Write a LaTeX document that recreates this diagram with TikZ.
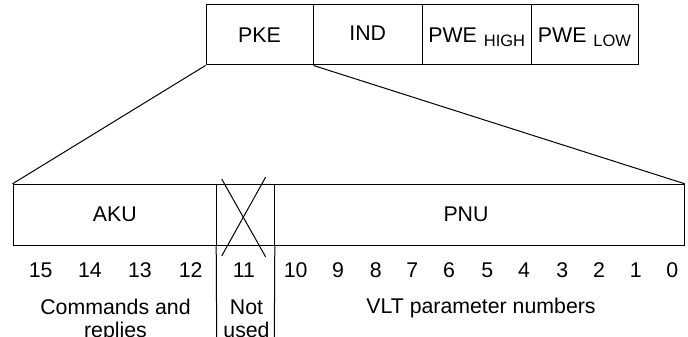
\documentclass[tikz,border=0pt]{standalone}
\usepackage{fontspec}
\setmainfont{Liberation Sans}
\newcommand{\bigtxt}{\fontsize{21.3}{23.5}\selectfont}
\newcommand{\subtxt}[1]{\smash{\raisebox{-4pt}{\fontsize{16.5}{16.5}\selectfont #1}}}
\tikzset{
  cell/.style={draw, line width=1pt, inner sep=0pt, font=\bigtxt},
  lbl/.style={inner sep=0pt, font=\bigtxt, align=center},
  conn/.style={line width=1pt}
}
\begin{document}
\begin{tikzpicture}[x=1pt,y=-1pt]
\useasboundingbox (0,0) rectangle (688,337);
\clip (0,0) rectangle (688,337);
% top word
\node[cell, minimum width=107, minimum height=60] (pke) at (259.5,35) {PKE};
\node[cell, minimum width=109.5, minimum height=60] (ind) at (367.75,35) {};
\node[lbl] (indl) at (367.75,33) {IND};
\node[cell, minimum width=108.5, minimum height=60] (pweh) at (476.75,35) {PWE\hspace{7pt}\subtxt{HIGH}};
\node[cell, minimum width=107, minimum height=60] (pwel) at (584.5,35) {PWE\hspace{7pt}\subtxt{LOW}};
% lower word
\node[cell, minimum width=203.7, minimum height=60.7] (aku) at (114.85,214.65) {AKU};
\node[cell, minimum width=57.6, minimum height=60.7] (nu) at (245.5,214.65) {};
\node[cell, minimum width=410, minimum height=60.7] (pnu) at (479.3,214.65) {};
\node[lbl] (pnul) at (466,214.65) {PNU};
% connectors
\draw[conn] (pke.south west) -- (aku.north west);
\draw[conn] (pke.south east) -- (pnu.north east);
% cross
\coordinate (x1) at (221.7,179);
\coordinate (x2) at (265.7,257);
\coordinate (x3) at (265.7,177);
\coordinate (x4) at (221.7,256);
\draw[conn] (x1) -- (x2);
\draw[conn] (x3) -- (x4);
% column separators
\coordinate (sl) at (216.7,340);
\coordinate (sr) at (274.3,340);
\draw[conn] (nu.south west) -- (sl);
\draw[conn] (nu.south east) -- (sr);
% bit numbers
\node[lbl] (b15) at (40.7,270) {15};
\node[lbl] (b14) at (90,270) {14};
\node[lbl] (b13) at (140,270) {13};
\node[lbl] (b12) at (190.7,270) {12};
\node[lbl] (b11) at (244,270) {11};
\node[lbl] (b10) at (295.7,270) {10};
\node[lbl] (b9) at (338,270) {9};
\node[lbl] (b8) at (375.7,270) {8};
\node[lbl] (b7) at (412.3,270) {7};
\node[lbl] (b6) at (449,270) {6};
\node[lbl] (b5) at (487.3,270) {5};
\node[lbl] (b4) at (524,270) {4};
\node[lbl] (b3) at (562.3,270) {3};
\node[lbl] (b2) at (599,270) {2};
\node[lbl] (b1) at (635.7,270) {1};
\node[lbl] (b0) at (672.3,270) {0};
% descriptions
\node[lbl, anchor=base] (cmd) at (115.5,337.5) {Commands and\\replies};
\node[lbl, anchor=base] (nused) at (246.5,337.5) {Not\\used};
\node[lbl, anchor=base] (vlt) at (481,313.5) {VLT parameter numbers};
\end{tikzpicture}
\end{document}
